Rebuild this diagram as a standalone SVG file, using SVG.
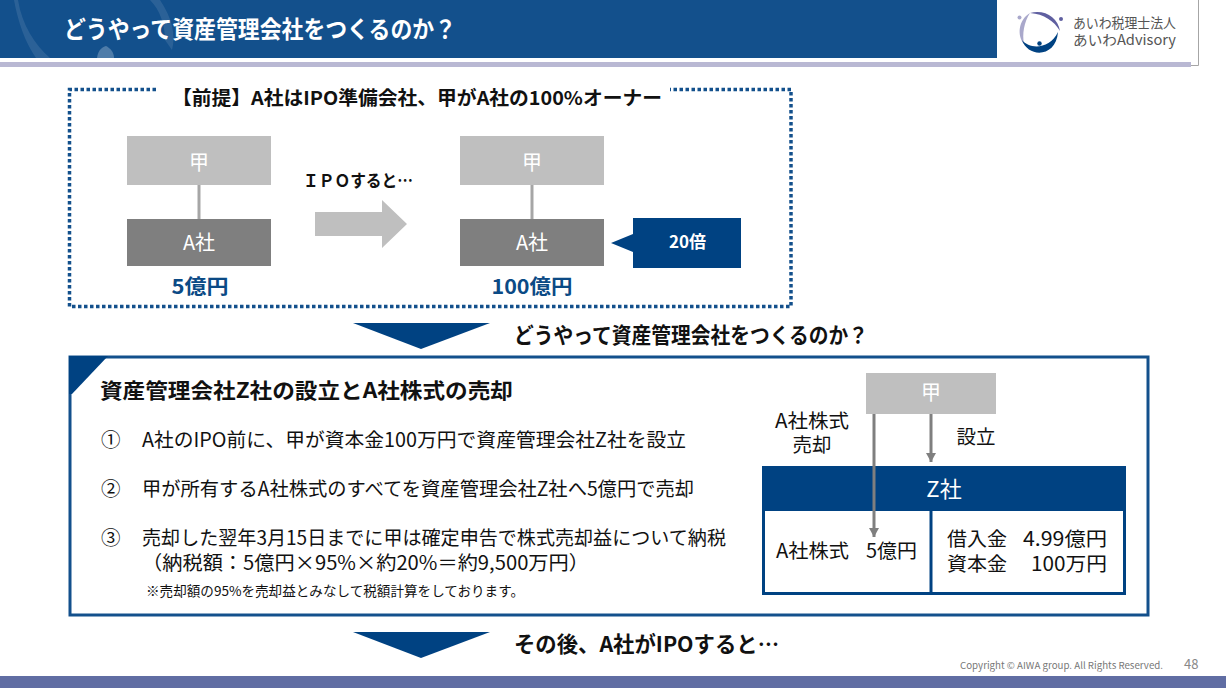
<svg xmlns="http://www.w3.org/2000/svg" width="1226" height="688" viewBox="0 0 1226 688">
<style>
text{font-family:"Noto Sans CJK JP","Noto Sans",sans-serif;fill:#111}
.b{font-weight:700}
.m{text-anchor:middle}
.w{fill:#fff}
.n{fill:#0b4a85}
.t{font-size:20px}
.bl{fill:#004282}
.gl{fill:#bfbfbf}
.gd{fill:#7f7f7f}
.ln{stroke:#a6a6a6;stroke-width:3;fill:none}
.ar{stroke:#7f7f7f;stroke-width:3;fill:none;marker-end:url(#ah)}
</style>
<defs>
<marker id="ah" markerUnits="userSpaceOnUse" markerWidth="10" markerHeight="10" refX="9" refY="5" orient="auto"><path d="M0 0L9 5L0 10Z" fill="#7f7f7f"/></marker>
</defs>
<rect width="1226" height="688" fill="#fff"/>
<g id="header">
<rect x="0" y="0" width="997" height="58" fill="#13508c"/>
<path d="M18 0C22 25 35 45 50 58L36 58C25 42 18 22 14 0Z" fill="#fff" opacity=".1"/>
<path d="M160 0C172 18 176 35 172 50L165 40C165 25 160 10 150 0Z" fill="#fff" opacity=".1"/>
<path d="M97 58C98 50 102 47 106 46C110 48 114 52 114 58Z" fill="#fff" opacity=".25"/>
<rect x="0" y="62" width="1191" height="5" fill="#b9b8d3"/>
<path d="M1198.500 0V65.500H1191" fill="none" stroke="#a6a6a6" stroke-width="1"/>
<text x="64" y="38" class="b w" font-size="24" textLength="392" lengthAdjust="spacingAndGlyphs">どうやって資産管理会社をつくるのか？</text>
</g>
<g id="logo">
<path d="M1030 13C1018 20 1017 36 1024 44C1022 34 1024 22 1030 13Z" fill="#a9a8cb"/>
<path d="M1030 13C1044 9 1058 17 1060 31C1054 21 1044 14 1030 13Z" fill="#5f5fa0"/>
<path d="M1022 40C1030 50 1050 49 1058 32C1056 58 1028 58 1022 40Z" fill="#004282"/>
<circle cx="1039.500" cy="43.500" r="2.200" fill="#004282"/>
<circle cx="1019.500" cy="17.500" r="2" fill="#a9a8cb"/>
<circle cx="1061" cy="19" r="2" fill="#5f5fa0"/>
<text x="1073" y="28" font-size="13.500" style="fill:#555" textLength="103" lengthAdjust="spacingAndGlyphs">あいわ税理士法人</text>
<text x="1073" y="45" font-size="14" style="fill:#555" textLength="103" lengthAdjust="spacingAndGlyphs">あいわAdvisory</text>
</g>
<g id="premise">
<path d="M156 89.500H69.500V306.500H791V89.500H670" fill="none" stroke="#13508c" stroke-width="3.500" stroke-dasharray="3.500 2.500"/>
<text x="172" y="105" class="b" font-size="19" textLength="490" lengthAdjust="spacingAndGlyphs">【前提】A社はIPO準備会社、甲がA社の100%オーナー</text>
</g>
<g id="connectors-top">
<path class="ln" d="M199 185V219"/>
<path class="ln" d="M532 185V219"/>
</g>
<g id="ko1"><rect x="127" y="136" width="144" height="49" class="gl"/><text x="199" y="170" class="m w t">甲</text></g>
<g id="a1"><rect x="127" y="219" width="144" height="47" class="gd"/><text x="199" y="250" class="m w t">A社</text></g>
<text x="200" y="294" class="m b n t" textLength="57" lengthAdjust="spacingAndGlyphs">5億円</text>
<text x="303" y="187" class="b" font-size="17" textLength="110" lengthAdjust="spacingAndGlyphs">ＩＰＯすると…</text>
<g id="ipo-arrow"><path d="M315 212H382V200L407 224L382 248V236H315Z" fill="#bfbfbf"/></g>
<g id="ko2"><rect x="460" y="136" width="144" height="49" class="gl"/><text x="532" y="170" class="m w t">甲</text></g>
<g id="a2"><rect x="460" y="219" width="144" height="47" class="gd"/><text x="532" y="250" class="m w t">A社</text></g>
<text x="532" y="294" class="m b n t" textLength="81" lengthAdjust="spacingAndGlyphs">100億円</text>
<g id="x20"><path d="M633 218H741V268H633V252L611 243L633 234Z" class="bl"/><text x="687.500" y="248" class="m b w" font-size="17">20倍</text></g>
<path d="M353 323H490L421 349Z" class="bl"/>
<text x="514" y="343" class="b" font-size="21.500" textLength="354" lengthAdjust="spacingAndGlyphs">どうやって資産管理会社をつくるのか？</text>
<g id="main">
<rect x="70" y="357" width="1078" height="258" fill="#fff" stroke="#13508c" stroke-width="3"/>
<path d="M69 356H108L72 394H69Z" class="bl"/>
<text x="100" y="398" class="b" font-size="21" textLength="413" lengthAdjust="spacingAndGlyphs">資産管理会社Z社の設立とA社株式の売却</text>
<g font-size="19.500">
<text x="101" y="447">①</text>
<text x="142" y="447" textLength="544" lengthAdjust="spacingAndGlyphs">A社のIPO前に、甲が資本金100万円で資産管理会社Z社を設立</text>
<text x="101" y="496">②</text>
<text x="142" y="496" textLength="552" lengthAdjust="spacingAndGlyphs">甲が所有するA社株式のすべてを資産管理会社Z社へ5億円で売却</text>
<text x="101" y="545">③</text>
<text x="142" y="545" textLength="584" lengthAdjust="spacingAndGlyphs">売却した翌年3月15日までに甲は確定申告で株式売却益について納税</text>
<text x="142" y="570" textLength="447" lengthAdjust="spacingAndGlyphs">（納税額：5億円×95%×約20%＝約9,500万円）</text>
</g>
<text x="146" y="596" font-size="13.500" textLength="378" lengthAdjust="spacingAndGlyphs">※売却額の95%を売却益とみなして税額計算をしております。</text>
</g>
<g id="ko3"><rect x="866" y="373" width="130" height="41" class="gl"/><text x="931" y="400" class="m w t">甲</text></g>
<text x="812" y="428" class="m" font-size="19.500" textLength="74" lengthAdjust="spacingAndGlyphs">A社株式</text>
<text x="812" y="452" class="m" font-size="19.500">売却</text>
<text x="976" y="444" class="m" font-size="19.500">設立</text>
<g id="z">
<rect x="762" y="466" width="364" height="45" class="bl"/>
<rect x="763.500" y="467.500" width="361" height="126" fill="none" stroke="#004282" stroke-width="3"/>
<path d="M931 510V595" stroke="#004282" stroke-width="3"/>
<text x="944" y="497" class="m w" font-size="22">Z社</text>
<text x="776" y="558" font-size="19.500" textLength="73" lengthAdjust="spacingAndGlyphs">A社株式</text>
<text x="866" y="558" font-size="19.500" textLength="51" lengthAdjust="spacingAndGlyphs">5億円</text>
<text x="947" y="546" font-size="19.500" textLength="60" lengthAdjust="spacingAndGlyphs">借入金</text>
<text x="1023" y="546" font-size="19.500" textLength="84" lengthAdjust="spacingAndGlyphs">4.99億円</text>
<text x="947" y="571" font-size="19.500" textLength="60" lengthAdjust="spacingAndGlyphs">資本金</text>
<text x="1031" y="571" font-size="19.500" textLength="76" lengthAdjust="spacingAndGlyphs">100万円</text>
</g>
<g id="connectors">
<path class="ar" d="M874 414V537"/>
<path class="ar" d="M931 414V462"/>
</g>
<path d="M353 632H490L421 658Z" class="bl"/>
<text x="514" y="652" class="b" font-size="21.500" textLength="265" lengthAdjust="spacingAndGlyphs">その後、A社がIPOすると…</text>
<g id="footer">
<text x="960" y="669" font-size="9.500" style="fill:#777" textLength="203" lengthAdjust="spacingAndGlyphs">Copyright © AIWA group. All Rights Reserved.</text>
<text x="1184" y="669" font-size="13" style="fill:#888">48</text>
<rect x="0" y="676" width="1226" height="12" fill="#606da3"/>
</g>
</svg>
